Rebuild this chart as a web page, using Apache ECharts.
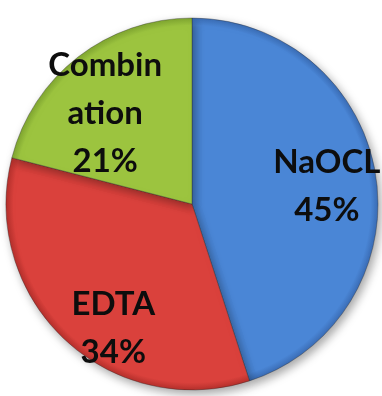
<!DOCTYPE html>
<html>
<head>
<meta charset="utf-8">
<script src="https://cdn.jsdelivr.net/npm/echarts@6/dist/echarts.min.js"></script>
<style>
html,body{margin:0;padding:0;background:#fff;}
#c{width:382px;height:396px;}
</style>
</head>
<body>
<div id="c"></div>
<script>
var categories = ['NaOCL', 'EDTA', 'Combin\nation'];
var values = [45, 34, 21];
var colors = ['#4a86d6', '#da413c', '#9cc43f'];
var edgeColors = ['#3a6cb5', '#b5302c', '#7fa530'];
var labelOffsets = [[40, -3], [-13, 54], [-28, -15]];

var cx = 192, cy = 204, R = 186;

var data = categories.map(function (name, i) {
  return {
    name: name,
    value: values[i],
    itemStyle: {
      color: {
        type: 'radial', x: cx, y: cy, r: R, global: true,
        colorStops: [
          { offset: 0, color: colors[i] },
          { offset: 0.9, color: colors[i] },
          { offset: 0.96, color: colors[i] },
          { offset: 1, color: edgeColors[i] }
        ]
      }
    },
    label: { offset: labelOffsets[i] }
  };
});

var chart = echarts.init(document.getElementById('c'), null, { renderer: 'canvas' });
chart.setOption({
  animation: false,
  backgroundColor: '#ffffff',
  series: [{
    type: 'pie',
    center: [cx, cy],
    radius: [0, R],
    startAngle: 90,
    clockwise: true,
    data: data,
    itemStyle: {
      borderColor: 'rgba(40,40,40,0.35)',
      borderWidth: 1,
      shadowBlur: 10,
      shadowColor: 'rgba(0,0,0,0.35)',
      shadowOffsetX: 3,
      shadowOffsetY: 4
    },
    label: {
      show: true,
      position: 'inside',
      formatter: '{b}\n{c}%',
      fontFamily: 'Lato',
      fontWeight: 'bold',
      fontSize: 33,
      lineHeight: 48,
      color: '#0d0d0d',
      align: 'center'
    },
    labelLine: { show: false },
    emphasis: { disabled: true }
  }]
});
</script>
</body>
</html>
